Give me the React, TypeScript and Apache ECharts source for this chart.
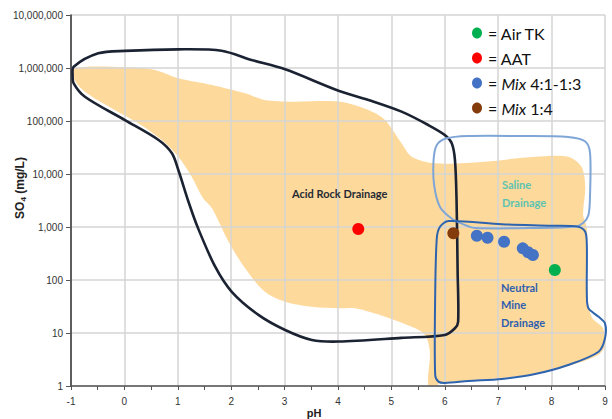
import React, { useEffect, useRef } from "react";
import * as echarts from "echarts";

// Acid rock drainage envelope (black outline)
const acidOutlinePH = [-0.95, -0.49, 0.01, 1.01, 1.82, 2.38, 3.01, 4.01, 4.57, 5.19, 5.69, 6.0, 6.13, 6.19, 6.22, 6.24, 6.25, 6.19, 6.0, 5.19, 4.01, 3.51, 3.01, 2.51, 2.01, 1.7, 1.38, 1.2, 1.01, 0.89, 0.64, 0.01, -0.74, -0.95, -0.97];
const acidOutlineSO4 = [1060000, 1890000, 2100000, 2250000, 2120000, 1420000, 944000, 373000, 249000, 150000, 84000, 54500, 38000, 18400, 3230, 150, 16.3, 12.3, 9.2, 8.1, 6.9, 7.4, 11.4, 22, 60, 178, 944, 3000, 11900, 24600, 43900, 104000, 287000, 514000, 740000];

// Field of observed mine waters (shaded area)
const fieldPH = [-0.93, 0.01, 0.57, 1.01, 1.64, 2.26, 2.63, 3.13, 4.04, 4.57, 4.88, 5.19, 5.38, 5.82, 6.75, 7.69, 8.31, 8.56, 8.63, 8.59, 8.66, 8.66, 8.68, 8.76, 8.96, 9.0, 8.87, 8.31, 7.69, 7.07, 6.44, 5.91, 5.84, 5.69, 5.72, 5.63, 5.38, 4.88, 4.32, 4.04, 3.51, 3.01, 2.63, 2.26, 1.95, 1.64, 1.47, 1.26, 1.01, 0.7, 0.26, -0.18, -0.74, -0.93];
const fieldSO4 = [986000, 1030000, 916000, 640000, 478000, 333000, 249000, 231000, 231000, 161000, 104000, 37900, 21200, 15900, 17100, 21200, 21200, 13700, 5760, 1680, 957, 238, 42, 19.2, 12.4, 5.9, 3.85, 2.38, 1.68, 1.42, 1.27, 1.14, 1, 1, 4.38, 9.17, 13.1, 20.3, 29.2, 29.2, 31.3, 39, 60.1, 166, 528, 2250, 3520, 8890, 21200, 43900, 90600, 161000, 357000, 594000];

// Saline drainage envelope
const salinePH = [5.85, 6.02, 6.43, 7.41, 8.31, 8.63, 8.72, 8.72, 8.69, 8.59, 8.44, 7.69, 6.57, 6.38, 6.14, 5.91, 5.8, 5.79];
const salineSO4 = [35200, 46700, 52100, 52100, 49900, 41000, 24900, 4020, 1680, 1190, 1020, 957, 957, 1090, 1415, 2380, 6200, 18400];

// Neutral mine drainage envelope
const neutralPH = [5.91, 6.07, 7.07, 8.0, 8.5, 8.63, 8.66, 8.66, 8.69, 8.88, 9.0, 9.0, 8.88, 8.31, 7.69, 7.07, 6.44, 6.0, 5.88, 5.82, 5.82, 5.85];
const neutralSO4 = [1010, 1300, 1125, 1059, 1014, 815, 457, 52, 29.2, 20.3, 15.2, 7.94, 4.44, 2.49, 1.68, 1.36, 1.24, 1.14, 1.21, 1.61, 52, 612];

// Samples
const airTkPH = [8.06];
const airTkSO4 = [154];
const aatPH = [4.38];
const aatSO4 = [916];
const mixAPH = [6.6, 6.8, 7.11, 7.46, 7.56, 7.65];
const mixASO4 = [685, 628, 528, 396, 333, 296];
const mixBPH = [6.16];
const mixBSO4 = [760];

const legendItems = [
  { color: "#00b050", text: "= Air TK" },
  { color: "#ff0000", text: "= AAT" },
  { color: "#4472c4", text: "= {i|Mix} 4:1-1:3" },
  { color: "#843c0c", text: "= {i|Mix} 1:4" },
];

const pairs = (xs: number[], ys: number[]) => xs.map((x, i) => [x, ys[i]]);

const polygonSeries = (
  name: string,
  xs: number[],
  ys: number[],
  style: any,
  z: number,
  smooth: number
) => ({
  type: "custom",
  name,
  coordinateSystem: "cartesian2d",
  data: [[xs[0], ys[0]]],
  z,
  silent: true,
  clip: false,
  renderItem: (_params: any, api: any) => ({
    type: "polygon",
    shape: {
      points: xs.map((x, i) => api.coord([x, ys[i]])),
      smooth,
    },
    style,
  }),
});

const scatter = (name: string, xs: number[], ys: number[], color: string) => ({
  type: "scatter",
  name,
  data: pairs(xs, ys),
  symbol: "circle",
  symbolSize: 12,
  itemStyle: { color, opacity: 1 },
  z: 5,
});

export default function App() {
  const ref = useRef<HTMLDivElement>(null);

  useEffect(() => {
    if (!ref.current) return;
    const chart = echarts.init(ref.current, undefined, { renderer: "svg" });
    const labelFont = "'Liberation Sans', Arial, sans-serif";
    const legendFont = "Lato, 'Open Sans', sans-serif";

    const legendGraphics: any[] = [];
    legendItems.forEach((item, i) => {
      const y = 33 + i * 25;
      legendGraphics.push({
        type: "ellipse",
        shape: { cx: 477, cy: y, rx: 5, ry: 5.5 },
        style: { fill: item.color },
        z: 10,
      });
      legendGraphics.push({
        type: "text",
        x: 488,
        y,
        style: {
          text: item.text,
          fontFamily: legendFont,
          fontSize: 16,
          fill: "#111",
          verticalAlign: "middle",
          align: "left",
          rich: {
            i: { fontStyle: "italic", fontFamily: legendFont, fontSize: 16, fill: "#111" },
          },
        },
        z: 10,
      });
    });

    const regionLabel = (text: string, x: number, y: number, color: string) => ({
      type: "text",
      x,
      y,
      style: {
        text,
        fontFamily: legendFont,
        fontSize: 11,
        fontWeight: "bold",
        fill: color,
        align: "left",
        verticalAlign: "middle",
      },
      z: 10,
    });

    chart.setOption({
      animation: false,
      backgroundColor: "#ffffff",
      grid: { left: 71, right: 7, top: 15, bottom: 33, containLabel: false },
      xAxis: {
        type: "value",
        min: -1,
        max: 9,
        interval: 1,
        axisLine: { show: true, onZero: false, lineStyle: { color: "#555", width: 1.5 } },
        axisTick: { show: true, length: 4, lineStyle: { color: "#555" } },
        minorTick: { show: true, splitNumber: 2, length: 4, lineStyle: { color: "#555" } },
        axisLabel: { fontFamily: labelFont, fontSize: 10, color: "#333", margin: 10 },
        splitLine: { show: true, lineStyle: { color: "#d4d4d4", width: 1.5 } },
      },
      yAxis: {
        type: "log",
        logBase: 10,
        min: 1,
        max: 10000000,
        splitNumber: 7,
        axisLine: { show: true, onZero: false, lineStyle: { color: "#333", width: 1.5 } },
        axisTick: { show: true, length: 5, lineStyle: { color: "#555" } },
        axisLabel: {
          fontFamily: labelFont,
          fontSize: 10,
          color: "#333",
          margin: 8,
          formatter: (v: number) => Math.round(v).toLocaleString("en-US"),
        },
        splitLine: { show: true, lineStyle: { color: "#d4d4d4", width: 1.5 } },
      },
      series: [
        polygonSeries("Mine water field", fieldPH, fieldSO4, { fill: "#fdd99c", stroke: "none" }, -1, 0.3),
        polygonSeries("Acid Rock Drainage", acidOutlinePH, acidOutlineSO4, { fill: "none", stroke: "#1b2232", lineWidth: 2.6 }, 3, 0.3),
        polygonSeries("Saline Drainage", salinePH, salineSO4, { fill: "none", stroke: "#7fa6d6", lineWidth: 2 }, 3, 0.3),
        polygonSeries("Neutral Mine Drainage", neutralPH, neutralSO4, { fill: "none", stroke: "#2e63ae", lineWidth: 2 }, 3, 0.3),
        scatter("AAT", aatPH, aatSO4, "#ff0000"),
        scatter("Mix 1:4", mixBPH, mixBSO4, "#843c0c"),
        scatter("Mix 4:1-1:3", mixAPH, mixASO4, "#4472c4"),
        scatter("Air TK", airTkPH, airTkSO4, "#00b050"),
      ],
      graphic: [
        ...legendGraphics,
        regionLabel("Acid Rock Drainage", 292, 193, "#262b33"),
        regionLabel("Saline", 502, 184, "#5cc3b0"),
        regionLabel("Drainage", 502, 202, "#5cc3b0"),
        regionLabel("Neutral", 501, 287, "#2f5fae"),
        regionLabel("Mine", 501, 304, "#2f5fae"),
        regionLabel("Drainage", 501, 322, "#2f5fae"),
        {
          type: "text",
          x: 20,
          y: 188,
          rotation: Math.PI / 2,
          style: {
            text: "{a|SO}{b|4}{a| (mg/L)}",
            align: "center",
            verticalAlign: "middle",
            fill: "#222",
            rich: {
              a: { fontFamily: labelFont, fontSize: 12, fontWeight: "bold", fill: "#222", lineHeight: 14 },
              b: { fontFamily: labelFont, fontSize: 8, fontWeight: "bold", fill: "#222", lineHeight: 14, verticalAlign: "bottom", padding: [6, 0, 0, 0] },
            },
          },
          z: 10,
        },
        {
          type: "text",
          x: 314,
          y: 413,
          style: {
            text: "pH",
            fontFamily: labelFont,
            fontSize: 11,
            fontWeight: "bold",
            fill: "#222",
            align: "center",
            verticalAlign: "middle",
          },
          z: 10,
        },
      ],
    });

    return () => chart.dispose();
  }, []);

  return (
    <div
      ref={ref}
      style={{ position: "fixed", left: 0, top: 0, width: 612, height: 419 }}
    />
  );
}
